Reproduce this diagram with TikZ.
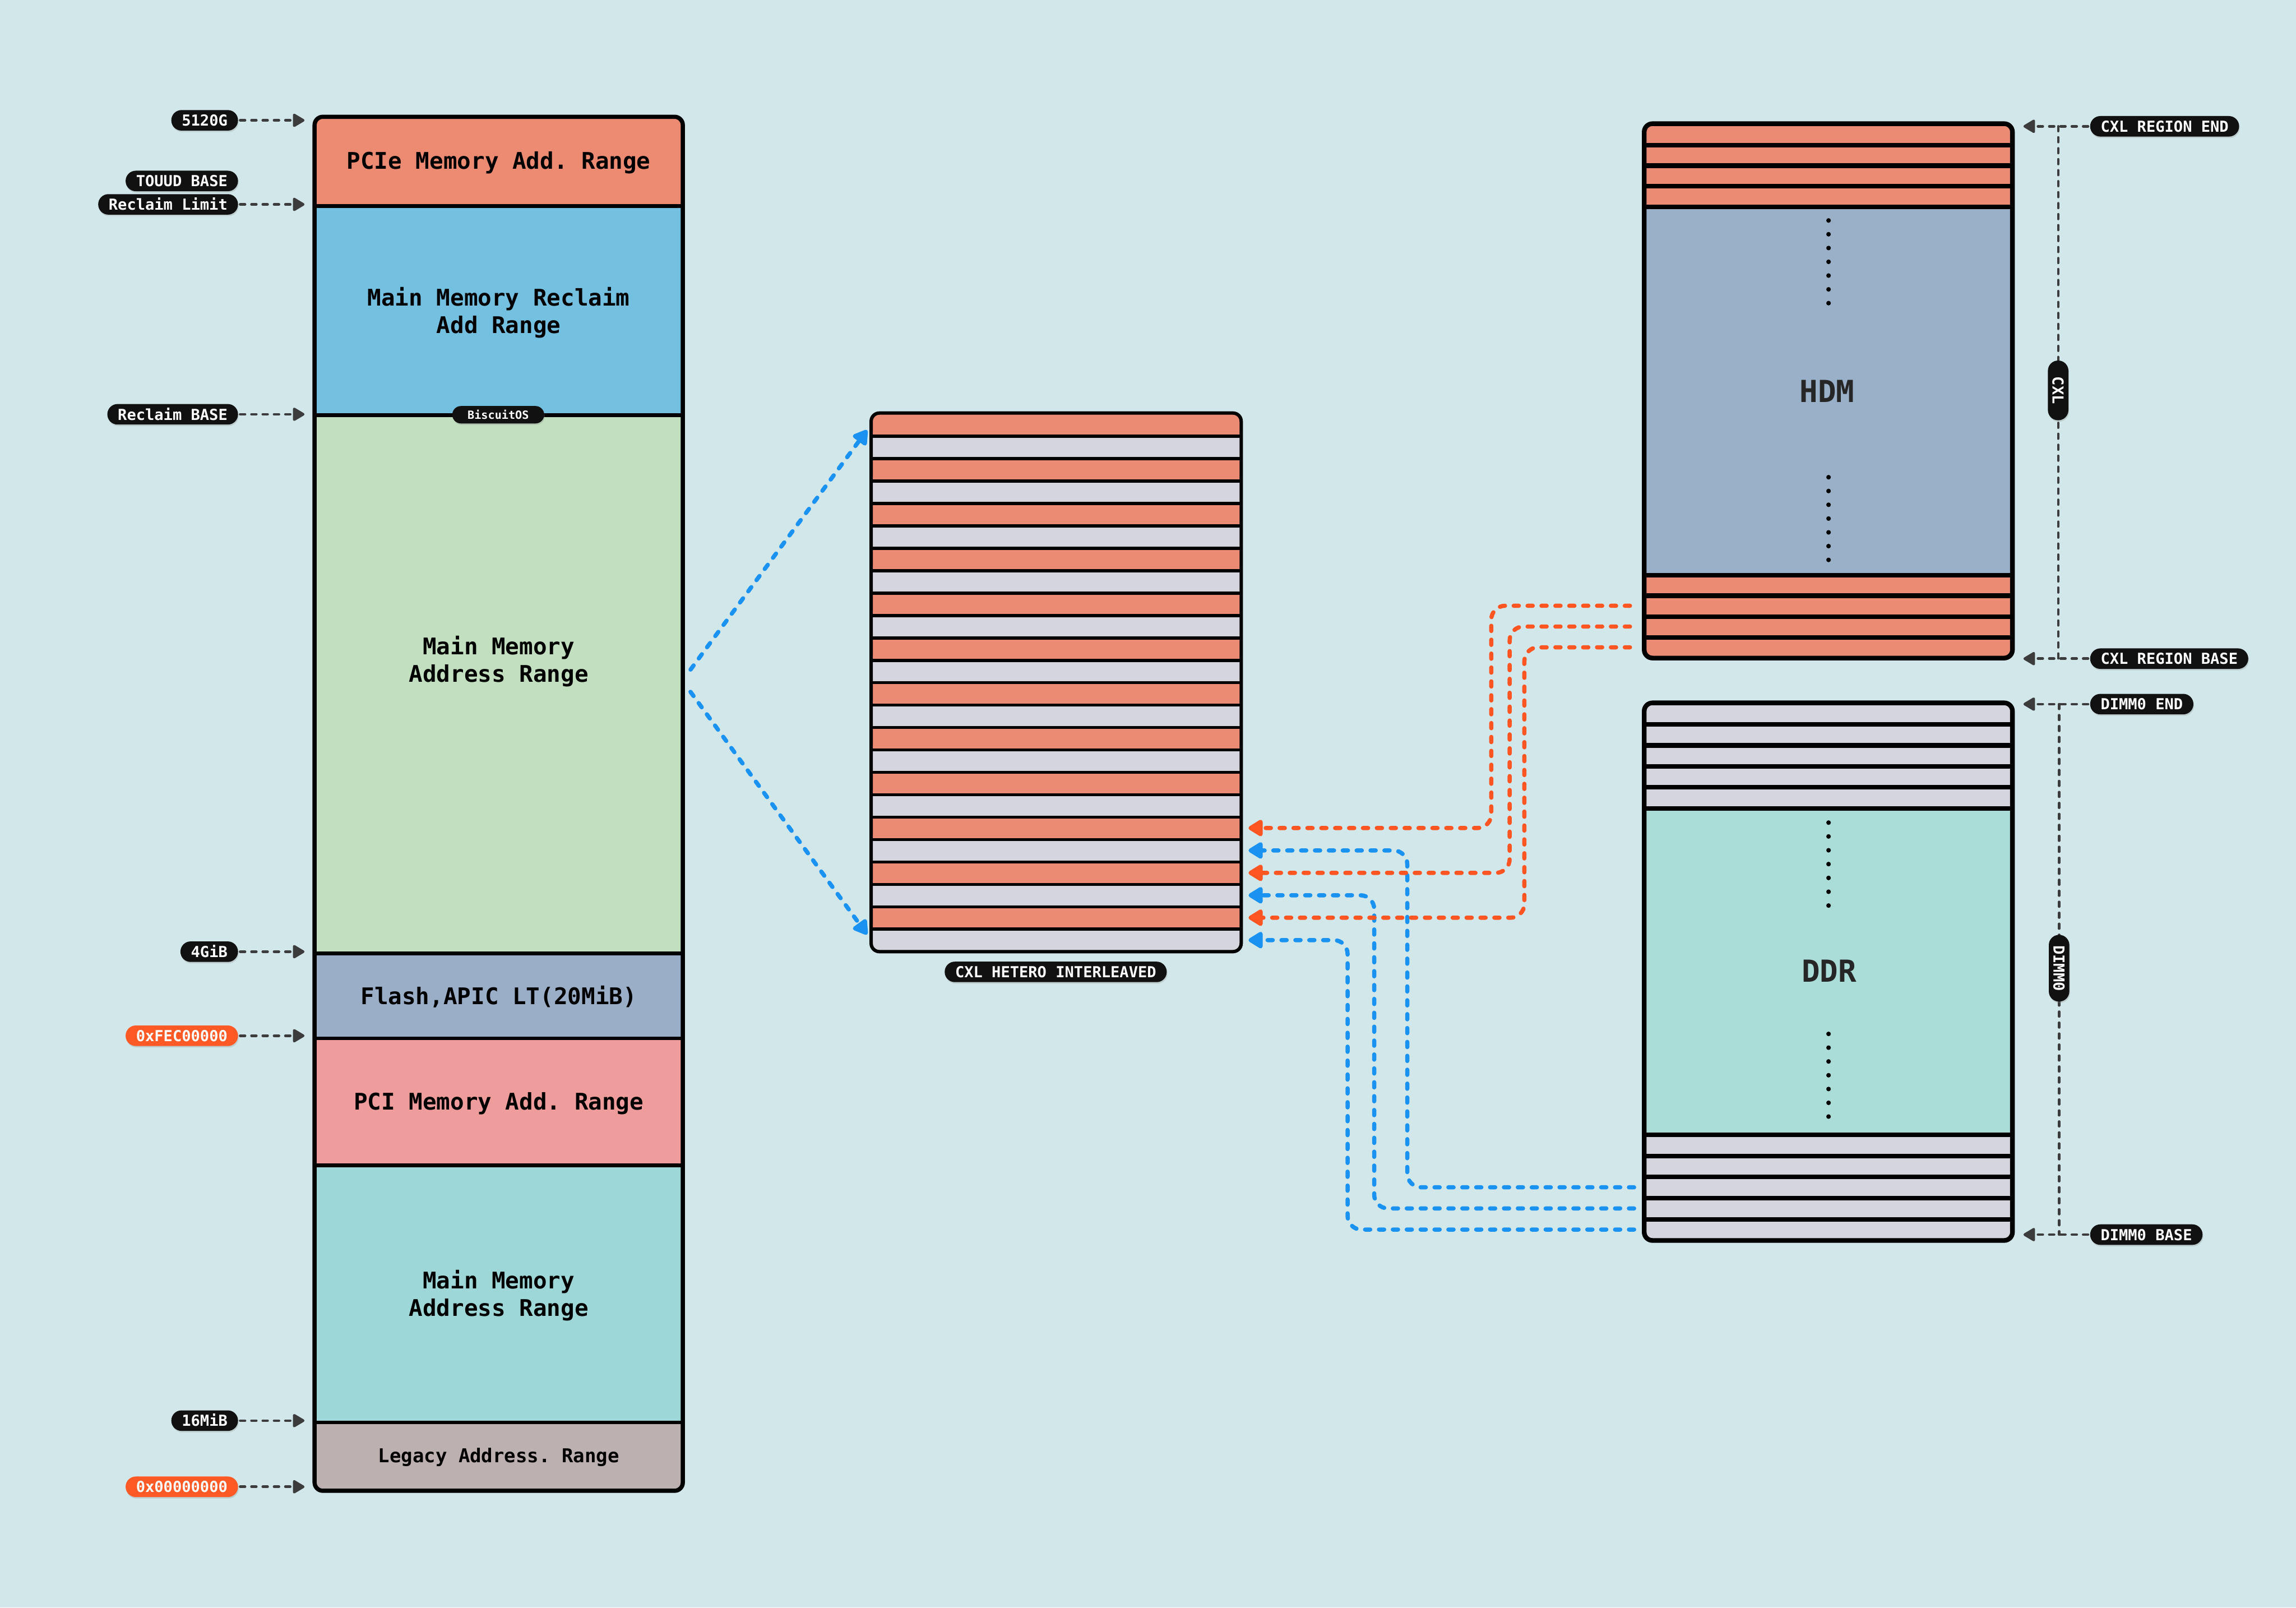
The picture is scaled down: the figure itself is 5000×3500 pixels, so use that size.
\documentclass[tikz,border=0pt]{standalone}
\usepackage{fontspec}
\setmonofont{DejaVu Sans Mono}
\usetikzlibrary{arrows.meta,shadows}
\definecolor{bg}{HTML}{D2E7E9}
\definecolor{cpcie}{HTML}{EC8B72}
\definecolor{creclaim}{HTML}{74C0E0}
\definecolor{cmainA}{HTML}{C2E0C0}
\definecolor{cflash}{HTML}{9BAEC8}
\definecolor{cpci}{HTML}{EF9C9C}
\definecolor{cmainB}{HTML}{9DD7D7}
\definecolor{clegacy}{HTML}{BDB0B1}
\definecolor{stripeO}{HTML}{EB8B73}
\definecolor{stripeG}{HTML}{D5D5DE}
\definecolor{chdm}{HTML}{9AAFC8}
\definecolor{cddr}{HTML}{AADDD7}
\definecolor{lineO}{HTML}{FF5522}
\definecolor{lineB}{HTML}{1A92F2}
\definecolor{addrgray}{HTML}{3C3C3C}
\definecolor{pillbk}{HTML}{111111}
\definecolor{pillor}{HTML}{FF5A26}
\begin{document}
\begin{tikzpicture}[x=0.01cm,y=-0.01cm,
  sect/.style={inner sep=0pt, minimum width=8cm},
  stripe/.style={inner sep=0pt, minimum width=8.04cm, minimum height=0.488cm},
  rstripe/.style={inner sep=0pt, minimum width=8cm},
  big/.style={font=\ttfamily\bfseries\fontsize{14.2}{17}\selectfont, align=center, text=black, inner sep=0pt},
  huge/.style={font=\ttfamily\bfseries\fontsize{18.8}{22}\selectfont, text=black!85, inner sep=0pt},
  pill/.style={fill=pillbk, text=white, rounded corners=6.3pt, inner xsep=6.5pt, inner ysep=0pt,
    minimum height=12.7pt, text height=7pt, text depth=0pt,
    font=\ttfamily\bfseries\fontsize{9.4}{10}\selectfont,
    drop shadow={opacity=0.25, shadow xshift=0.4pt, shadow yshift=-0.9pt}},
  opill/.style={pill, fill=pillor},
  spill/.style={pill, rounded corners=5.4pt, minimum height=10.8pt, inner xsep=9.5pt, text height=5.2pt,
    font=\ttfamily\bfseries\fontsize{7}{8}\selectfont},
  addr/.style={draw=addrgray, line width=1.6pt, line cap=round, dash pattern=on 3pt off 4pt,
    -{Triangle[length=8pt,width=9pt,round]}, shorten >=0.22cm, shorten <=0.04cm},
  vdash/.style={draw=addrgray, line width=1.5pt, line cap=round, dash pattern=on 3pt off 3.8pt},
  oarrow/.style={draw=lineO, line width=2.6pt, line cap=round, dash pattern=on 3.2pt off 5.4pt,
    rounded corners=0.3cm, -{Triangle[length=10pt,width=11.5pt,round]}},
  barrow/.style={oarrow, draw=lineB},
  sep/.style={draw=black, line width=2.4pt},
  dotc/.style={fill=black}
]
\fill[bg] (0,0) rectangle (5000,3500);
\useasboundingbox (0,0) rectangle (5000,3500);

% ---------------- left address map ----------------
\begin{scope}
\clip[rounded corners=0.18cm] (686,255) rectangle (1486,3245);
\node[sect, fill=cpcie, minimum height=1.93cm] (pcie) at (1086,351.5) {};
\node[sect, fill=creclaim, minimum height=4.55cm] (reclaim) at (1086,675.5) {};
\node[sect, fill=cmainA, minimum height=11.72cm] (mainA) at (1086,1489) {};
\node[sect, fill=cflash, minimum height=1.85cm] (flash) at (1086,2167.5) {};
\node[sect, fill=cpci, minimum height=2.76cm] (pci) at (1086,2398) {};
\node[sect, fill=cmainB, minimum height=5.6cm] (mainB) at (1086,2816) {};
\node[sect, fill=clegacy, minimum height=1.49cm] (legacy) at (1086,3170.5) {};
\end{scope}
\foreach \s in {pcie,reclaim,mainA,flash,pci,mainB}
  \draw[sep] (\s.south west) -- (\s.south east);
\draw[sep, line width=2.6pt, rounded corners=0.18cm] (pcie.north west) rectangle (legacy.south east);

\node[big] (tpcie) at (1086,354) {PCIe Memory Add. Range};
\node[big] (treclaim) at (1086,681) {Main Memory Reclaim\\Add Range};
\node[big] (tmainA) at (1086,1440) {Main Memory\\Address Range};
\node[big] (tflash) at (1086,2170) {Flash,APIC LT(20MiB)};
\node[big] (tpci) at (1086,2402) {PCI Memory Add. Range};
\node[big] (tmainB) at (1086,2820) {Main Memory\\Address Range};
\node[big, font=\ttfamily\bfseries\fontsize{11.8}{14}\selectfont] (tlegacy) at (1086,3173) {Legacy Address. Range};

\node[spill] (bos) at (1085,903) {BiscuitOS};

% left labels
\node[pill, anchor=east] (l5120) at (519,262) {5120G};
\node[pill, anchor=east] (ltouud) at (519,394) {TOUUD BASE};
\node[pill, anchor=east] (lrlimit) at (519,445) {Reclaim Limit};
\node[pill, anchor=east] (lrbase) at (519,902) {Reclaim BASE};
\node[pill, anchor=east] (l4g) at (519,2072) {4GiB};
\node[opill, anchor=east] (lfec) at (519,2255) {0xFEC00000};
\node[pill, anchor=east] (l16m) at (519,3093) {16MiB};
\node[opill, anchor=east] (lzero) at (519,3237) {0x00000000};
\foreach \p in {l5120,lrlimit,lrbase,l4g,lfec,l16m,lzero}
  \draw[addr] (\p.east) -- (\p.east -| pcie.west);

% ---------------- middle interleaved box ----------------
\begin{scope}
\clip[rounded corners=0.18cm] (1898,900) rectangle (2702,2071);
\foreach \i in {0,...,23} {
  \pgfmathsetmacro\yy{900+48.8*(\i+0.5)}
  \pgfmathtruncatemacro\odd{mod(\i,2)}
  \ifnum\odd=0 \def\cc{stripeO}\else\def\cc{stripeG}\fi
  \node[stripe, fill=\cc] (m\i) at (2300,\yy) {};
}
\end{scope}
\foreach \i in {0,...,22}
  \draw[sep, line width=2pt] (m\i.south west) -- (m\i.south east);
\draw[sep, line width=2.1pt, rounded corners=0.18cm] (m0.north west) rectangle (m23.south east);
\node[pill] (lcxlhi) at (2299,2116) {CXL HETERO INTERLEAVED};

\coordinate (fork) at (1486,1482);
\draw[barrow, shorten <=0.3cm, shorten >=0.15cm] (fork) -- (m0.west);
\draw[barrow, shorten <=0.3cm, shorten >=0.15cm] (fork) -- (m23.west);

% ---------------- HDM box ----------------
\begin{scope}
\clip[rounded corners=0.18cm] (3582,270) rectangle (4381,1432);
\foreach \i in {0,...,3} {
  \pgfmathsetmacro\yy{270+45*(\i+0.5)}
  \node[rstripe, fill=stripeO, minimum height=0.45cm] (ht\i) at (3981.5,\yy) {};
}
\node[rstripe, fill=chdm, minimum height=8.01cm] (hdm) at (3981.5,850.5) {};
\foreach \i in {0,...,3} {
  \pgfmathsetmacro\yy{1251+45.25*(\i+0.5)}
  \node[rstripe, fill=stripeO, minimum height=0.4525cm] (hb\i) at (3981.5,\yy) {};
}
\end{scope}
\foreach \s in {ht0,ht1,ht2,ht3,hdm,hb0,hb1,hb2}
  \draw[sep, line width=2.8pt] (\s.south west) -- (\s.south east);
\draw[sep, line width=2.9pt, rounded corners=0.18cm] (ht0.north west) rectangle (hb3.south east);
\foreach \k in {0,...,6} {
  \fill[dotc] (3982,{480+30*\k}) circle (0.05cm);
  \fill[dotc] (3982,{1039+30*\k}) circle (0.05cm);
}
\node[huge] (thdm) at (3979,852) {HDM};

% ---------------- DDR box ----------------
\begin{scope}
\clip[rounded corners=0.18cm] (3582,1531) rectangle (4381,2700);
\foreach \i in {0,...,4} {
  \pgfmathsetmacro\yy{1531+45.6*(\i+0.5)}
  \node[rstripe, fill=stripeG, minimum height=0.456cm] (dt\i) at (3981.5,\yy) {};
}
\node[rstripe, fill=cddr, minimum height=7.11cm] (ddr) at (3981.5,2114.5) {};
\foreach \i in {0,...,4} {
  \pgfmathsetmacro\yy{2470+46*(\i+0.5)}
  \node[rstripe, fill=stripeG, minimum height=0.46cm] (db\i) at (3981.5,\yy) {};
}
\end{scope}
\foreach \s in {dt0,dt1,dt2,dt3,dt4,ddr,db0,db1,db2,db3}
  \draw[sep, line width=2.8pt] (\s.south west) -- (\s.south east);
\draw[sep, line width=2.9pt, rounded corners=0.18cm] (dt0.north west) rectangle (db4.south east);
\foreach \k in {0,...,6} {
  \fill[dotc] (3982,{1791+30.1*\k}) circle (0.05cm);
  \fill[dotc] (3982,{2251+30*\k}) circle (0.05cm);
}
\node[huge] (tddr) at (3983,2114) {DDR};

% ---------------- right labels ----------------
\node[pill, anchor=west] (cend) at (4551,275) {CXL REGION END};
\node[pill, anchor=west] (cbase) at (4551,1434) {CXL REGION BASE};
\node[pill, anchor=west] (dend) at (4551,1533) {DIMM0 END};
\node[pill, anchor=west] (dbase) at (4551,2688) {DIMM0 BASE};
\foreach \p in {cend,cbase,dend,dbase}
  \draw[addr, shorten >=0.24cm] (\p.west) -- (\p.west -| ht0.east);
\coordinate (cxlx) at (4482,850);
\coordinate (dimx) at (4484,2108);
\draw[vdash] (cxlx |- cend.west) -- (cxlx |- cbase.west);
\draw[vdash] (dimx |- dend.west) -- (dimx |- dbase.west);
\node[pill, rotate=-90, minimum width=1.3cm] (cxlv) at (cxlx) {CXL};
\node[pill, rotate=-90, minimum width=1.3cm] (dimv) at (dimx) {DIMM0};

% ---------------- connectors to interleaved box ----------------
\draw[barrow, shorten <=0.22cm, shorten >=0.16cm] (db2.west) -- ++(-516,0) |- (m19.east);
\draw[barrow, shorten <=0.22cm, shorten >=0.16cm] (db3.west) -- ++(-588,0) |- (m21.east);
\draw[barrow, shorten <=0.22cm, shorten >=0.16cm] (db4.west) -- ++(-646,0) |- (m23.east);
\draw[oarrow, shorten <=0.31cm, shorten >=0.16cm] (hb1.west) -- ++(-333,0) |- (m18.east);
\draw[oarrow, shorten <=0.31cm, shorten >=0.16cm] (hb2.west) -- ++(-293,0) |- (m20.east);
\draw[oarrow, shorten <=0.31cm, shorten >=0.16cm] (hb3.west) -- ++(-261,0) |- (m22.east);
\end{tikzpicture}
\end{document}
